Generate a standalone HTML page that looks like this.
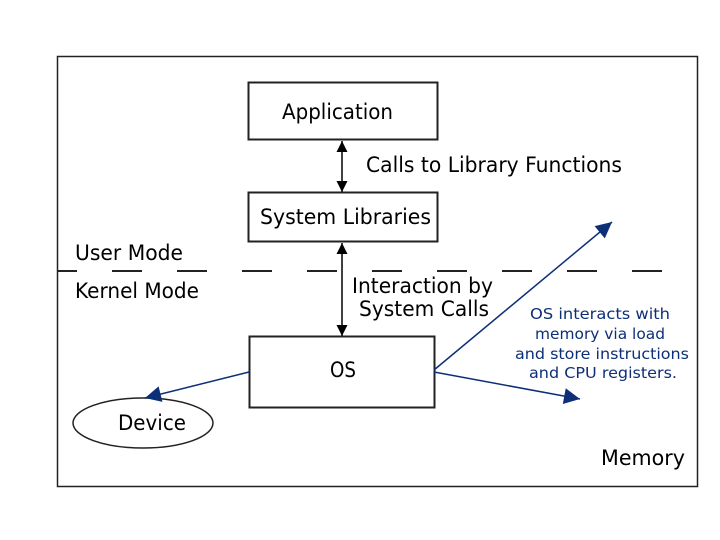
<!DOCTYPE html>
<html><head><style>
html,body{margin:0;padding:0;background:#fff;}
svg{display:block;}
text{font-family:"DejaVu Sans","Liberation Sans",sans-serif;}
</style></head><body>
<svg width="720" height="540" viewBox="0 0 720 540" xmlns="http://www.w3.org/2000/svg">
<defs>
<marker id="ab" viewBox="0 0 10 10" refX="10" refY="5" markerWidth="14" markerHeight="11" markerUnits="userSpaceOnUse" orient="auto-start-reverse"><path d="M0,0 L10,5 L0,10 z" fill="#000"/></marker>
<marker id="bl" viewBox="0 0 10 10" refX="10" refY="5" markerWidth="22" markerHeight="16" markerUnits="userSpaceOnUse" orient="auto"><path d="M0,0 L10,5 L0,10 z" fill="#0d2f78"/></marker>
</defs>
<rect x="57.5" y="56.5" width="640" height="430" fill="none" stroke="#222" stroke-width="1.5"/>
<rect x="248.5" y="82.5" width="189" height="57" fill="none" stroke="#222" stroke-width="2"/>
<text x="282" y="119" font-size="21" textLength="111" lengthAdjust="spacingAndGlyphs">Application</text>
<rect x="248.5" y="192.5" width="189" height="49" fill="none" stroke="#222" stroke-width="2"/>
<text x="260" y="224" font-size="21" textLength="171" lengthAdjust="spacingAndGlyphs">System Libraries</text>
<rect x="249.5" y="336.5" width="185" height="71" fill="none" stroke="#222" stroke-width="2"/>
<text x="330" y="377" font-size="21" textLength="26" lengthAdjust="spacingAndGlyphs">OS</text>
<ellipse cx="143" cy="423" rx="70" ry="25" fill="none" stroke="#222" stroke-width="1.5"/>
<text x="118" y="430" font-size="21" textLength="68" lengthAdjust="spacingAndGlyphs">Device</text>
<line x1="342" y1="141" x2="342" y2="192" stroke="#000" stroke-width="1.5" marker-start="url(#ab)" marker-end="url(#ab)"/>
<line x1="342" y1="243" x2="342" y2="336" stroke="#000" stroke-width="1.5" marker-start="url(#ab)" marker-end="url(#ab)"/>
<line x1="58" y1="271" x2="674" y2="271" stroke="#222" stroke-width="2" stroke-dasharray="30 35" stroke-dashoffset="11"/>
<text x="366" y="172" font-size="21" textLength="256" lengthAdjust="spacingAndGlyphs">Calls to Library Functions</text>
<text x="75" y="260" font-size="21" textLength="108" lengthAdjust="spacingAndGlyphs">User Mode</text>
<text x="75" y="298" font-size="21" textLength="124" lengthAdjust="spacingAndGlyphs">Kernel Mode</text>
<text x="352" y="293" font-size="21" textLength="141" lengthAdjust="spacingAndGlyphs">Interaction by</text>
<text x="359" y="316" font-size="21" textLength="130" lengthAdjust="spacingAndGlyphs">System Calls</text>
<text x="601" y="465" font-size="21" textLength="84" lengthAdjust="spacingAndGlyphs">Memory</text>
<line x1="434" y1="370" x2="612" y2="222" stroke="#0d2f78" stroke-width="1.5" marker-end="url(#bl)"/>
<line x1="434" y1="372" x2="580" y2="399" stroke="#0d2f78" stroke-width="1.5" marker-end="url(#bl)"/>
<line x1="249" y1="372" x2="145" y2="398" stroke="#0d2f78" stroke-width="1.5" marker-end="url(#bl)"/>
<g fill="#0d2f78" font-size="15.5">
<text x="530" y="319" textLength="140" lengthAdjust="spacingAndGlyphs">OS interacts with</text>
<text x="535" y="339" textLength="130" lengthAdjust="spacingAndGlyphs">memory via load</text>
<text x="515" y="359" textLength="174" lengthAdjust="spacingAndGlyphs">and store instructions</text>
<text x="529" y="378" textLength="148" lengthAdjust="spacingAndGlyphs">and CPU registers.</text>
</g>
</svg>
</body></html>
